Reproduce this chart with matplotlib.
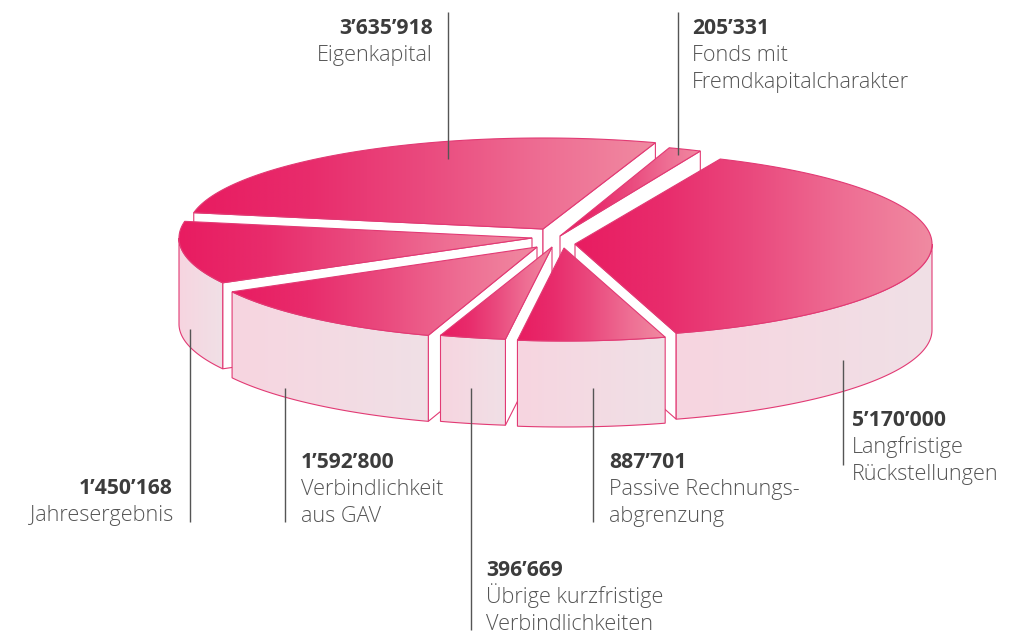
import numpy as np
import matplotlib
matplotlib.use("Agg")
import matplotlib.pyplot as plt
from matplotlib.colors import LinearSegmentedColormap
from matplotlib.patches import Polygon

categories = ["Langfristige\nRückstellungen", "Passive Rechnungs-\nabgrenzung",
              "Übrige kurzfristige\nVerbindlichkeiten", "Verbindlichkeit\naus GAV",
              "Jahresergebnis", "Eigenkapital", "Fonds mit\nFremdkapitalcharakter"]
values = [5170000, 887701, 396669, 1592800, 1450168, 3635918, 205331]

# layout (pixels)
apex = [(575, 244), (564, 248), (552, 247), (537, 247), (532, 238), (543, 229), (560, 236)]
radius_x = [357, 357, 357, 348, 353, 355, 345]
radius_y = [93, 93, 93, 93, 93, 91, 93]
draw_order = [5, 6, 4, 0, 3, 2, 1]
label_pos = [(852, 426, "left"), (609, 468, "left"), (486, 576, "left"), (301, 468, "left"),
             (173, 494, "right"), (433, 34, "right"), (692, 34, "left")]
leaders = [(843, 360, 465), (593, 388, 522), (471, 388, 630), (285, 388, 522),
           (190, 329, 522), (448, 12, 159), (678, 12, 155)]
START, DEPTH = 24.0, 86.0
LINE_STEP = 27

EDGE = "#e23a74"
top_cmap = LinearSegmentedColormap.from_list("top", ["#e81c61", "#e82c6c", "#ea4a7e", "#ee6d93", "#f08aa1"])
side_cmap = LinearSegmentedColormap.from_list("side", ["#f7d5e0", "#f0e0e6"])

plt.rcParams["font.family"] = ["Open Sans", "DejaVu Sans"]
fig = plt.figure(figsize=(10.14, 6.34), dpi=100)
ax = fig.add_axes([0, 0, 1, 1])
ax.set_xlim(0, 1014)
ax.set_ylim(634, 0)
ax.axis("off")


def rim(c, t, rx, ry):
    t = np.radians(t)
    return np.column_stack([c[0] + rx * np.sin(t), c[1] - ry * np.cos(t)])


def grad(pts, cmap, z):
    poly = Polygon(pts, closed=True, transform=ax.transData, fc="none", ec="none")
    ax.add_patch(poly)
    g = np.linspace(0, 1, 256).reshape(1, -1)
    im = ax.imshow(g, cmap=cmap, vmin=0, vmax=1, aspect="auto", interpolation="bilinear", zorder=z,
                   extent=[pts[:, 0].min(), pts[:, 0].max(), pts[:, 1].max(), pts[:, 1].min()])
    im.set_clip_path(poly)
    ax.add_patch(Polygon(pts, closed=True, fc="none", ec=EDGE, lw=0.8, zorder=z + 0.01, joinstyle="miter"))


total = sum(values)
spans = [v / total * 360 for v in values]
starts = START + np.concatenate([[0], np.cumsum(spans)[:-1]])

z = 2
for i in draw_order:
    c = np.array(apex[i], float)
    rx, ry = radius_x[i], radius_y[i]
    t0, t1 = starts[i], starts[i] + spans[i]
    down = np.array([0, DEPTH])
    for t, n in ((t0, t0 - 90), (t1, t1 + 90)):
        if np.cos(np.radians(n)) < 0:
            p = rim(c, t, rx, ry)[0]
            ax.add_patch(Polygon([c, p, p + down, c + down], closed=True, fc="white", ec=EDGE, lw=0.8,
                                 zorder=z, joinstyle="miter"))
    z += 0.1
    lo, hi = max(t0, 90), min(t1, 270)
    if hi > lo:
        ts = np.linspace(lo, hi, 120)
        a = rim(c, ts, rx, ry)
        grad(np.vstack([a, (a + down)[::-1]]), side_cmap, z)
    z += 0.1
    ts = np.linspace(t0, t1, 200)
    grad(np.vstack([c, rim(c, ts, rx, ry)]), top_cmap, z)
    z += 0.1

for (x, y0, y1) in leaders:
    ax.plot([x, x], [y0, y1], color="#555555", lw=1.0, zorder=50, solid_capstyle="butt")

for cat, val, (x, y, ha) in zip(categories, values, label_pos):
    ax.text(x, y, f"{val:,}".replace(",", "’"), ha=ha, va="baseline", fontsize=15.2,
            fontweight="bold", color="#3c3c3c", zorder=60)
    for k, line in enumerate(cat.split("\n"), start=1):
        ax.text(x, y + k * LINE_STEP, line, ha=ha, va="baseline", fontsize=15.6,
                fontweight="light", color="#555555", zorder=60)

ax.set_xlim(0, 1014)
ax.set_ylim(634, 0)
fig.savefig("out.png", dpi=100, facecolor="white")
